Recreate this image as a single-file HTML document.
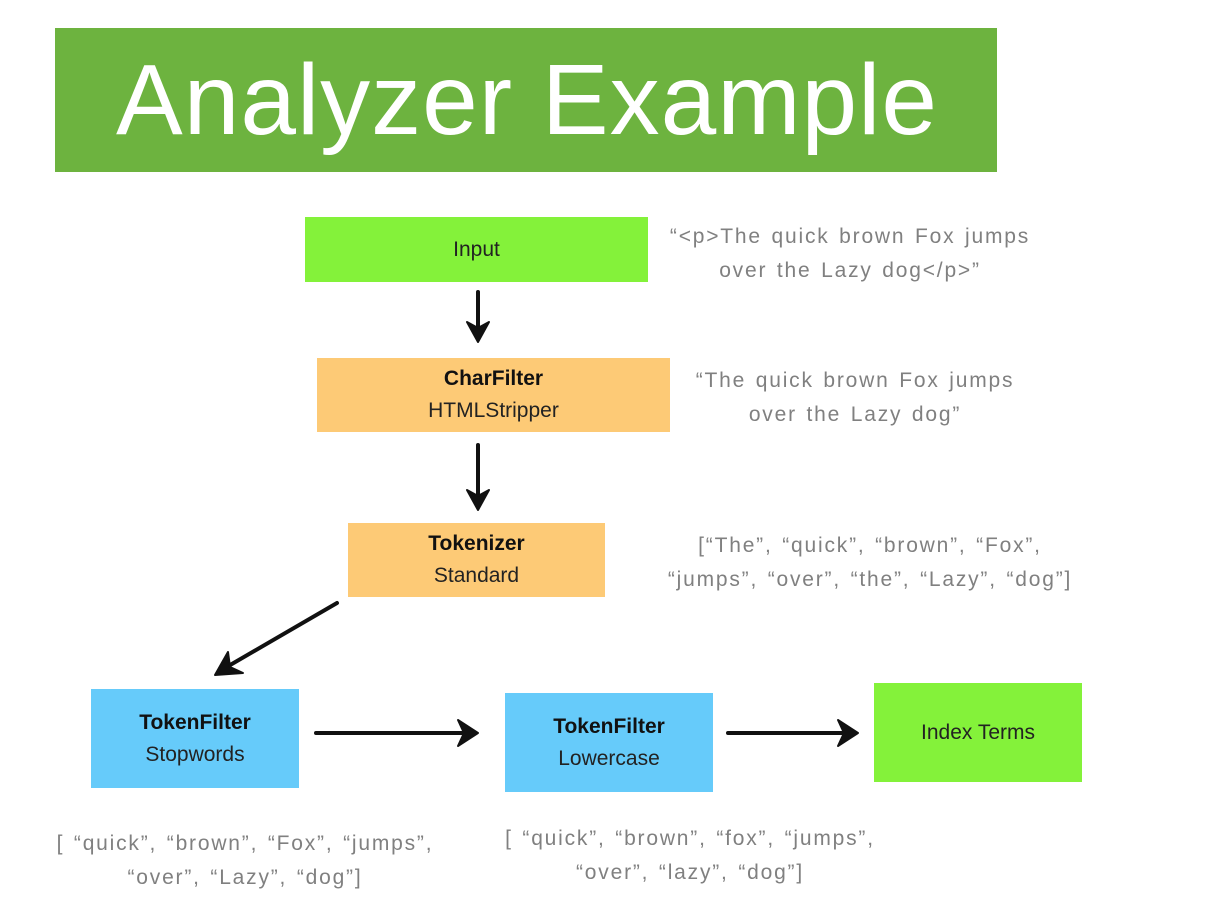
<!DOCTYPE html>
<html><head><style>
body{margin:0;width:1208px;height:918px;background:#fff;position:relative;overflow:hidden;font-family:"Liberation Sans",sans-serif}
.b{position:absolute;display:flex;flex-direction:column;align-items:center;justify-content:center;font-size:21px;color:#222;line-height:32px}
.b b{font-weight:bold;color:#111}
.t{position:absolute;color:#808080;font-size:21px;line-height:34px;text-align:center;letter-spacing:1.8px;word-spacing:2px}
</style></head><body>
<div style="position:absolute;left:55px;top:28px;width:942px;height:144px;background:#6db33f"></div>
<div style="position:absolute;left:112px;top:30px;width:830px;text-align:center;color:#fff;font-size:100px;line-height:140px;letter-spacing:1px">Analyzer Example</div>
<div class="b" style="left:305px;top:217px;width:343px;height:65px;background:#84f23a">Input</div>
<div class="b" style="left:317px;top:358px;width:353px;height:74px;background:#fdca76"><b>CharFilter</b>HTMLStripper</div>
<div class="b" style="left:348px;top:523px;width:257px;height:74px;background:#fdca76"><b>Tokenizer</b>Standard</div>
<div class="b" style="left:91px;top:689px;width:208px;height:99px;background:#66cbfa"><b>TokenFilter</b>Stopwords</div>
<div class="b" style="left:505px;top:693px;width:208px;height:99px;background:#66cbfa"><b>TokenFilter</b>Lowercase</div>
<div class="b" style="left:874px;top:683px;width:208px;height:99px;background:#84f23a">Index Terms</div>
<div class="t" style="left:630px;top:220px;width:440px">“&lt;p&gt;The quick brown Fox jumps<br>over the Lazy dog&lt;/p&gt;”</div>
<div class="t" style="left:660px;top:364px;width:390px">“The quick brown Fox jumps<br>over the Lazy dog”</div>
<div class="t" style="left:600px;top:529px;width:540px">[“The”, “quick”, “brown”, “Fox”,<br>“jumps”, “over”, “the”, “Lazy”, “dog”]</div>
<div class="t" style="left:0px;top:827px;width:490px">[ “quick”, “brown”, “Fox”, “jumps”,<br>“over”, “Lazy”, “dog”]</div>
<div class="t" style="left:450px;top:822px;width:480px">[ “quick”, “brown”, “fox”, “jumps”,<br>“over”, “lazy”, “dog”]</div>
<svg width="1208" height="918" style="position:absolute;left:0;top:0" stroke="#111" stroke-width="4" stroke-linecap="round" stroke-linejoin="round">
<path fill="none" d="M478 292V330M478 445V498M337 603L225 668M316 733H465M728 733H845"/>
<path fill="#111" stroke-width="2" d="M467 322L478 342L489 322L478 328Z"/>
<path fill="#111" stroke-width="2" d="M467 490L478 510L489 490L478 496Z"/>
<path fill="#111" stroke-width="2" d="M228 652L215 675L243 673L230 667Z"/>
<path fill="#111" stroke-width="2" d="M458 720L478 733L458 746L464 733Z"/>
<path fill="#111" stroke-width="2" d="M838 720L858 733L838 746L844 733Z"/>
</svg>
</body></html>
